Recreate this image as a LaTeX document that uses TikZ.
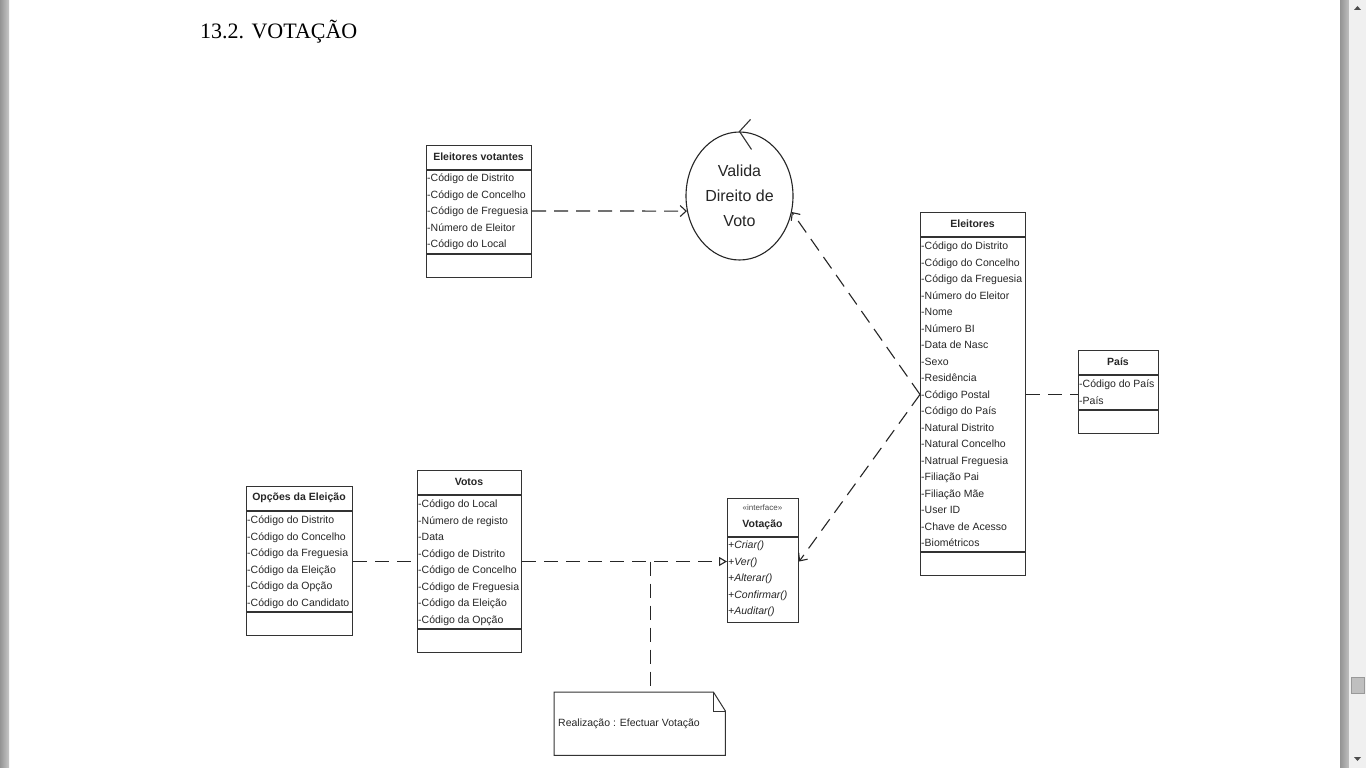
\documentclass[tikz,border=0pt]{standalone}
\usepackage{fontspec}
\setmainfont{Liberation Sans}
\newfontfamily\titlefont{Liberation Serif}
\usepackage{tikz}
\usetikzlibrary{arrows.meta}
\usetikzlibrary{shapes.geometric}
\tikzset{
  classbox/.style={draw=black!80, line width=1.1pt, inner sep=0pt, anchor=north west},
  classname/.style={font=\fontsize{10.5}{12}\selectfont\bfseries, text=black!85, inner sep=0pt},
  attr/.style={font=\fontsize{10.5}{12}\selectfont, text=black!85, anchor=west,
           inner sep=0pt, text height=7.5pt, text depth=0pt},
  oper/.style={attr, font=\fontsize{10.5}{12}\selectfont\itshape},
  sep/.style={draw=black!80, line width=1.1pt},
  dep/.style={draw=black!85, line width=1.1pt, dash pattern=on 14pt off 8pt},
  barb/.style={-{Straight Barb[length=6pt, width=11pt]}},
}

\begin{document}
\begin{tikzpicture}[x=1pt, y=-1pt]
    \fill[white] (0,0) rectangle (1366,768);
    \useasboundingbox (0,0) rectangle (1366,768);

    % page edges and scroll bar
    \fill[left color=black!42, right color=black!22] (0,0) rectangle (9,768);
    \fill[left color=black!42, right color=black!25] (1340,0) rectangle (1349,768);
    \fill[black!6] (1349,0) rectangle (1366,768);
    \fill[black!70] (1354,10) -- (1361,10) -- (1357.5,6) -- cycle;
    \fill[black!70] (1354,757) -- (1361,757) -- (1357.5,761) -- cycle;
    \filldraw[fill=black!25, draw=black!40] (1351,677) rectangle (1364,693);

    \node[anchor=base west, inner sep=0pt, font=\titlefont\fontsize{22}{24}\selectfont] (titulo) at (200,39) {13.2. VOTAÇÃO};

    % Eleitores votantes
    \node[classbox, minimum width=105, minimum height=132] (votantes) at (426,145) {};
    \draw[sep] (426,170) -- (531,170);
    \draw[sep] (426,254) -- (531,254);
    \node[classname] (votantes-t) at (478.5,157) {Eleitores votantes};
    \foreach \a [count=\i] in {Código de Distrito, Código de Concelho, Código de Freguesia, Número de Eleitor, Código do Local}
      \node[attr] (votantes-\i) at (427,161.5+16.5*\i) {-\a};

    % controlo
    \node[ellipse, draw=black!85, line width=1.1pt, minimum width=107, minimum height=128, inner sep=0pt,
          align=center, font=\fontsize{16}{25}\selectfont, text=black!85] (valida) at (739.5,196) {Valida\\Direito de\\Voto};
    \draw[sep] ([shift={(11,-12)}]valida.north) -- (valida.north) -- ([shift={(12,18)}]valida.north);

    % Eleitores
    \node[classbox, minimum width=105, minimum height=363] (eleitores) at (920,212) {};
    \draw[sep] (920,237) -- (1025,237);
    \draw[sep] (920,552) -- (1025,552);
    \node[classname] (elei-t) at (972.5,224) {Eleitores};
    \foreach \a [count=\i] in {Código do Distrito, Código do Concelho, Código da Freguesia, Número do Eleitor, Nome,
        Número BI, Data de Nasc, Sexo, Residência, Código Postal, Código do País, Natural Distrito, Natural Concelho,
        Natrual Freguesia, Filiação Pai, Filiação Mãe, User ID, Chave de Acesso, Biométricos}
      \node[attr] (elei-\i) at (921,229.5+16.5*\i) {-\a};

    % Pais
    \node[classbox, minimum width=80, minimum height=83] (pais) at (1078,350) {};
    \draw[sep] (1078,375) -- (1158,375);
    \draw[sep] (1078,410) -- (1158,410);
    \node[classname] (pais-t) at (1118,362) {País};
    \foreach \a [count=\i] in {Código do País, País}
      \node[attr] (pais-\i) at (1079,367.5+16.5*\i) {-\a};

    % Opcoes da Eleicao
    \node[classbox, minimum width=106, minimum height=149] (opcoes) at (246,486) {};
    \draw[sep] (246,511) -- (352,511);
    \draw[sep] (246,612) -- (352,612);
    \node[classname] (opcoes-t) at (299,498) {Opções da Eleição};
    \foreach \a [count=\i] in {Código do Distrito, Código do Concelho, Código da Freguesia, Código da Eleição,
        Código da Opção, Código do Candidato}
      \node[attr] (opcoes-\i) at (247,503.5+16.5*\i) {-\a};

    % Votos
    \node[classbox, minimum width=104, minimum height=182] (votos) at (417,470) {};
    \draw[sep] (417,495) -- (521,495);
    \draw[sep] (417,629) -- (521,629);
    \node[classname] (votos-t) at (469,482) {Votos};
    \foreach \a [count=\i] in {Código do Local, Número de registo, Data, Código de Distrito, Código de Concelho,
        Código de Freguesia, Código da Eleição, Código da Opção}
      \node[attr] (votos-\i) at (418,487.5+16.5*\i) {-\a};

    % interface Votacao
    \node[classbox, minimum width=71, minimum height=124] (votacao) at (727,498) {};
    \draw[sep] (727,537) -- (798,537);
    \node[font=\fontsize{8}{9}\selectfont, text=black!70, inner sep=0pt] (vtc-st) at (762.5,508) {«interface»};
    \node[classname] (vtc-t) at (762.5,525) {Votação};
    \foreach \a [count=\i] in {Criar(), Ver(), Alterar(), Confirmar(), Auditar()}
      \node[oper] (vtc-\i) at (728,528.5+16.5*\i) {+\a};

    % nota
    \node[anchor=north west, minimum width=171, minimum height=63, inner sep=0pt] (nota) at (554,692) {};
    \draw[sep, line width=1pt] (nota.north west) -- ([xshift=-12pt]nota.north east) -- ([yshift=-19pt]nota.north east)
        -- (nota.south east) -- (nota.south west) -- cycle;
    \draw[sep, line width=1pt] ([xshift=-12pt]nota.north east) -- ([xshift=-12pt, yshift=-19pt]nota.north east)
        -- ([yshift=-19pt]nota.north east);
    \node[attr] (nota-t) at (558,723) {Realização : Efectuar Votação};

    % ligacoes
    \coordinate (eleihub) at (eleitores.west |- elei-10);
    \draw[dep, barb] (votantes.east |- votantes-3) -- (valida.196);
    \draw[dep, barb] (eleihub) -- (valida.343);
    \draw[dep, barb] (eleihub) -- (votacao.east |- vtc-2);
    \draw[dep] (eleitores.east |- elei-10) -- (pais.west |- elei-10);
    \draw[dep] (opcoes.east |- vtc-2) -- (votos.west |- vtc-2);
    \draw[dep, -{Triangle[open, length=8pt, width=9pt]}] (votos.east |- vtc-2)
        -- coordinate[pos=0.626] (realiz) (votacao.west |- vtc-2);
    \draw[dep] (realiz) -- (realiz |- nota.north);

  \end{tikzpicture}
\end{document}
